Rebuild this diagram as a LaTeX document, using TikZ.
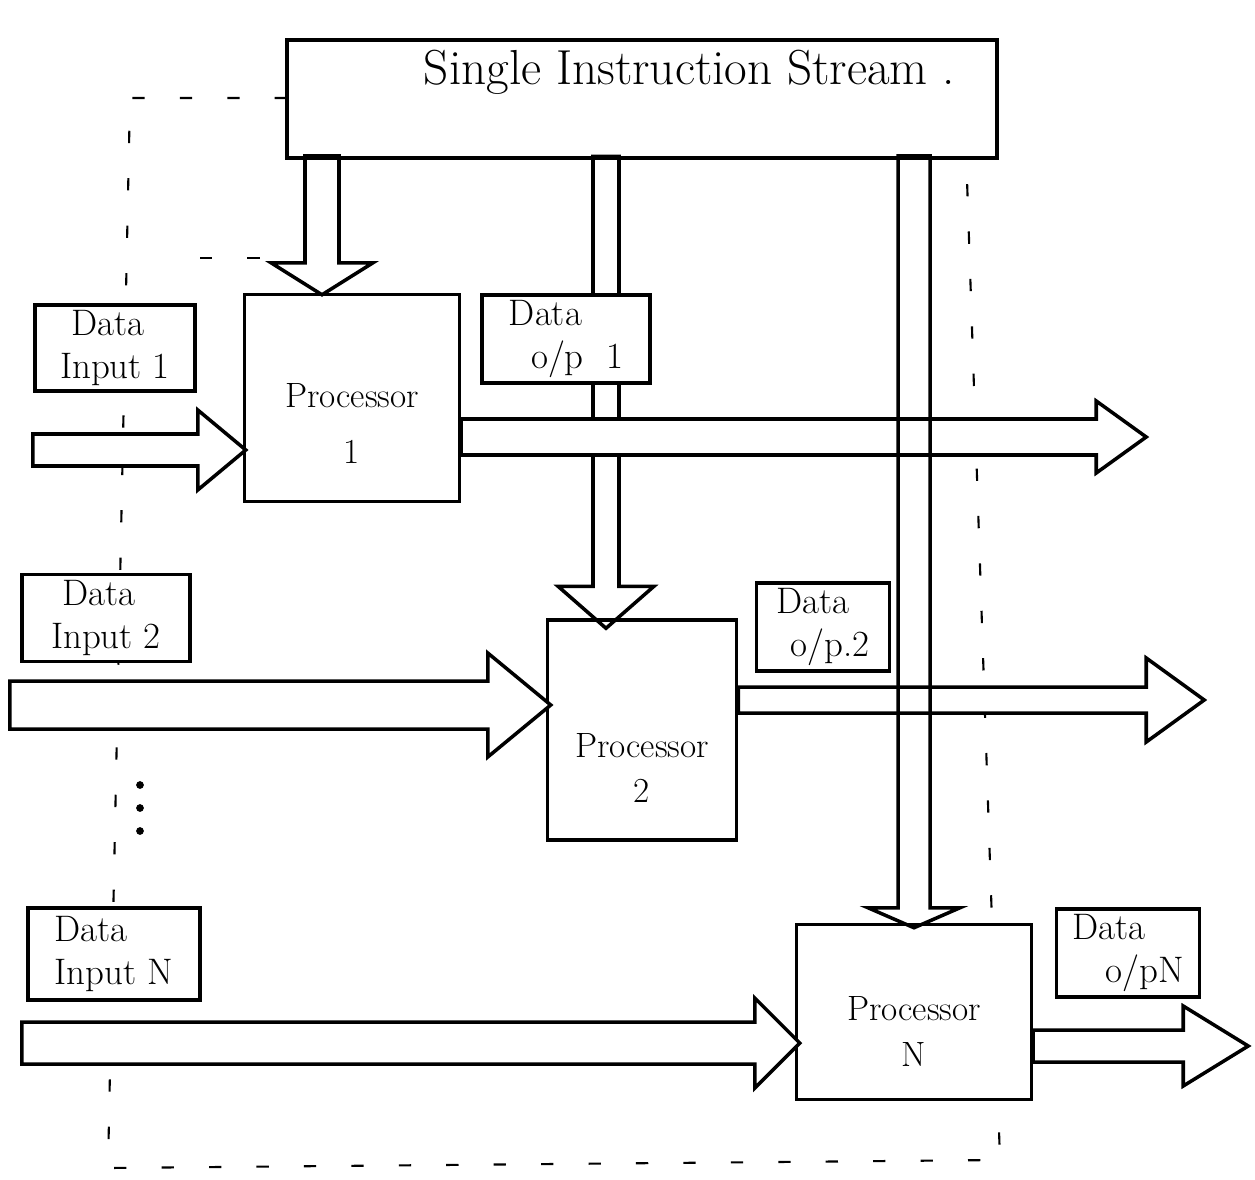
\documentclass[tikz,border=0pt]{standalone}
\usetikzlibrary{calc}

% block arrows: tip, head length, head half width, shaft half width, shaft length
\newcommand{\arrowR}[6][]{\draw[#1] (#2) -- ++(-#3,-#4) -- ++(0,#4-#5) -- ++(-#6,0)
  -- ++(0,2*#5) -- ++(#6,0) -- ++(0,#4-#5) -- cycle;}
\newcommand{\arrowD}[6][]{\draw[#1] (#2) -- ++(-#4,-#3) -- ++(#4-#5,0) -- ++(0,-#6)
  -- ++(2*#5,0) -- ++(0,#6) -- ++(#4-#5,0) -- cycle;}

\begin{document}
\begin{tikzpicture}[x=0.02cm,y=-0.02cm,line width=2pt,
  box/.style={draw,fill=white,align=center,font=\fontsize{20}{24}\selectfont},
  databox/.style={box,align=left,inner xsep=3pt,font=\fontsize{21}{24}\selectfont},
  frame/.style={line width=1.2pt,dash pattern=on 7pt off 20pt}]
\useasboundingbox (0,0) rectangle (1255,1180);

% dashed frame
\draw[frame] (287,98) -- (130,98) -- (108,1168) -- (1000,1160) -- (966,150);
\draw[frame] (200,258) -- (266,258);

% boxes
\node[box,minimum width=14.2cm,minimum height=2.36cm,text depth=1.25cm,
  font=\fontsize{28}{32}\selectfont]
  (sis) at (642,99) {\hspace*{1.9cm}Single Instruction Stream .};
\node[box,minimum width=4.3cm,minimum height=4.14cm] (p1) at (352,398)
  {\rule{0pt}{1.5cm}Processor\\[8pt]1};
\node[box,minimum width=3.78cm,minimum height=4.4cm] (p2) at (642,730)
  {\rule{0pt}{2cm}Processor\\[2pt]2};
\node[box,minimum width=4.7cm,minimum height=3.5cm] (pN) at (914,1012)
  {\rule{0pt}{1.25cm}Processor\\[2pt]N};
\node[databox,minimum width=3.2cm,minimum height=1.66cm] (in1) at (115,348) {\ Data\\Input 1};
\node[databox,minimum width=3.36cm,minimum height=1.74cm] (in2) at (106,618) {\ Data\\Input 2};
\node[databox,minimum width=3.44cm,minimum height=1.84cm] (inN) at (114,954) {Data\\Input N};
\node[databox,minimum width=2.66cm,minimum height=1.6cm] (out2) at (823,627) {Data\\\hspace*{0.4em}o/p.2};
\node[databox,minimum width=2.86cm,minimum height=1.54cm] (outN) at (1128,953) {Data\\\hspace*{0.9em}o/pN};

% more processors
\foreach \y in {785,808,831}
  \fill (140,\y) circle (2.2pt);

% arrow tips
\coordinate (ins1) at ($(p1.north)+(-30,2)$);
\coordinate (ins2) at ($(p2.north)+(-36,10)$);
\coordinate (insN) at ($(pN.north)+(0,5)$);
\coordinate (in1tip) at ($(p1.west)+(3,52)$);
\coordinate (in2tip) at ($(p2.west)+(5,-25)$);
\coordinate (inNtip) at ($(pN.west)+(5,31)$);
\coordinate (out1tip) at ($(p1.east)+(685,39)$);
\coordinate (out2tip) at ($(p2.east)+(466,-30)$);
\coordinate (outNtip) at ($(pN.east)+(215,34)$);

% instruction stream to processor 2, under o/p 1
\arrowD{ins2}{42}{48}{13}{430}
\node[databox,minimum width=3.36cm,minimum height=1.7cm] (out1) at (566,339)
  {Data\\\hspace*{0.6em}o/p\ \ 1};

% data in and out
\arrowR[fill=white]{out1tip}{50}{36}{18}{635}
\arrowR[fill=white]{out2tip}{58}{42}{13}{408}
\arrowR[fill=white]{outNtip}{65}{40}{16}{150}
\arrowR[fill=white]{in1tip}{48}{40}{16}{165}
\arrowR[fill=white]{in2tip}{63}{52}{24}{478}
\arrowR[fill=white]{inNtip}{45}{45}{21}{733}

% instruction stream to processors 1 and N
\arrowD{ins1}{32}{51}{17}{107}
\arrowD{insN}{20}{46}{16}{752}
\end{tikzpicture}
\end{document}
